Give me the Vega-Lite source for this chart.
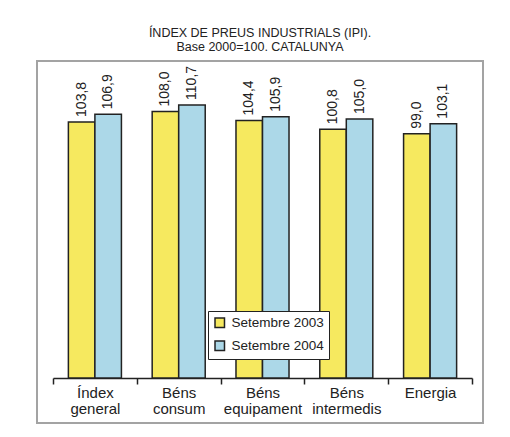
{
  "$schema": "https://vega.github.io/schema/vega-lite/v6.json",
  "width": 446,
  "height": 362,
  "autosize": "none",
  "padding": {"left": 37, "top": 61, "right": 27, "bottom": 14},
  "background": "white",
  "config": {
    "view": {"fill": "white", "stroke": "#a3a3a3", "strokeWidth": 2},
    "font": "Liberation Sans"
  },
  "title": {
    "text": ["ÍNDEX DE PREUS INDUSTRIALS (IPI).", "Base 2000=100. CATALUNYA"],
    "fontSize": 12.5,
    "fontWeight": "normal",
    "font": "Liberation Sans",
    "color": "#222222",
    "lineHeight": 14,
    "offset": 8,
    "anchor": "middle"
  },
  "data": {
    "values": [
      {"categoria": "Índex general", "serie": "Setembre 2003", "valor": 103.8},
      {"categoria": "Índex general", "serie": "Setembre 2004", "valor": 106.9},
      {"categoria": "Béns consum", "serie": "Setembre 2003", "valor": 108.0},
      {"categoria": "Béns consum", "serie": "Setembre 2004", "valor": 110.7},
      {"categoria": "Béns equipament", "serie": "Setembre 2003", "valor": 104.4},
      {"categoria": "Béns equipament", "serie": "Setembre 2004", "valor": 105.9},
      {"categoria": "Béns intermedis", "serie": "Setembre 2003", "valor": 100.8},
      {"categoria": "Béns intermedis", "serie": "Setembre 2004", "valor": 105.0},
      {"categoria": "Energia", "serie": "Setembre 2003", "valor": 99.0},
      {"categoria": "Energia", "serie": "Setembre 2004", "valor": 103.1}
    ]
  },
  "transform": [
    {"calculate": "replace(format(datum.valor, '.1f'), '.', ',')", "as": "etiqueta"}
  ],
  "encoding": {
    "x": {
      "field": "categoria",
      "type": "nominal",
      "sort": null,
      "scale": {"range": [16, 435], "paddingInner": 0, "paddingOuter": 0},
      "axis": {
        "title": null,
        "orient": "bottom",
        "offset": -45,
        "domainColor": "#222222",
        "domainWidth": 1.5,
        "tickColor": "#222222",
        "tickWidth": 1.5,
        "tickSize": 6,
        "tickBand": "extent",
        "labelAngle": 0,
        "labelFontSize": 15,
        "labelColor": "#222222",
        "labelPadding": 1,
        "labelLineHeight": 16,
        "labelExpr": "split(datum.label, ' ')",
        "grid": false
      }
    },
    "xOffset": {
      "field": "serie",
      "type": "nominal",
      "scale": {"paddingInner": 0, "paddingOuter": 0.58}
    },
    "y": {
      "field": "valor",
      "type": "quantitative",
      "stack": null,
      "scale": {"domain": [-18.24, 128.5], "nice": false, "zero": false},
      "axis": null
    }
  },
  "layer": [
    {
      "mark": {"type": "bar", "stroke": "#222222", "strokeWidth": 1.5},
      "encoding": {
        "y2": {"datum": 0},
        "color": {
          "field": "serie",
          "type": "nominal",
          "scale": {"domain": ["Setembre 2003", "Setembre 2004"], "range": ["#f6e95f", "#acd8e8"]},
          "legend": {
            "title": null,
            "orient": "none",
            "legendX": 171,
            "legendY": 250,
            "fillColor": "white",
            "strokeColor": "#222222",
            "padding": 5,
            "symbolType": "square",
            "symbolSize": 90,
            "symbolStrokeColor": "#222222",
            "symbolStrokeWidth": 1.5,
            "labelFontSize": 13.5,
            "labelColor": "#222222",
            "labelOffset": 5,
            "rowPadding": 7
          }
        }
      }
    },
    {
      "mark": {"type": "text", "angle": 270, "align": "left", "baseline": "middle", "dx": 5, "fontSize": 14, "color": "#222222"},
      "encoding": {"text": {"field": "etiqueta"}}
    }
  ]
}
